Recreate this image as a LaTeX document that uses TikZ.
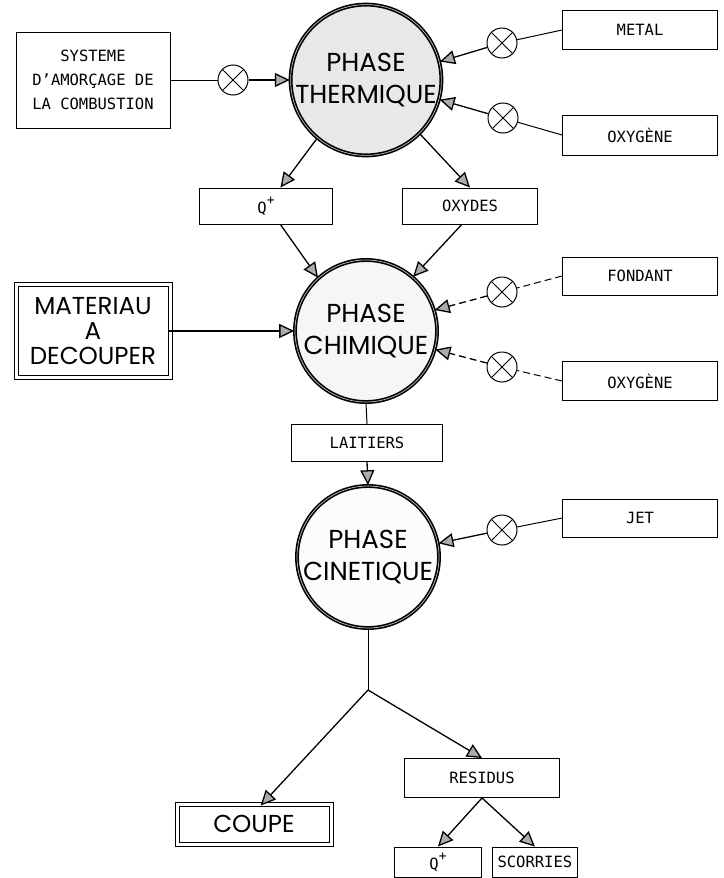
\documentclass[tikz,border=0pt]{standalone}
\usepackage{fontspec}
\setmainfont{Poppins}
\setmonofont{DejaVu Sans Mono}
\usetikzlibrary{arrows.meta,positioning}

\begin{document}
\begin{tikzpicture}[x=1pt,y=-1pt,
	phase/.style={circle,draw,line width=1.6pt,double=gray!50,double distance=0.7pt,minimum size=142pt,inner sep=0pt,align=center,font=\fontsize{26}{32}\selectfont,fill=#1},
	phase/.default=white,
	tbox/.style={rectangle,draw,line width=0.9pt,font=\ttfamily\fontsize{15.5}{24}\selectfont,minimum width=155pt,minimum height=38pt,inner sep=2pt,align=center},
	dbox/.style={rectangle,draw,line width=0.9pt,font=\fontsize{24.5}{25}\selectfont,align=center,inner sep=2pt},
	cadre/.style={line width=0.9pt},
	vanne/.style={circle,draw,line width=1pt,minimum size=30pt,inner sep=0pt,
	  path picture={\draw[line width=1pt] (path picture bounding box.north west) -- (path picture bounding box.south east)
	  (path picture bounding box.north east) -- (path picture bounding box.south west);}},
	paths/.style={-{Triangle[length=15pt,width=14pt,fill=gray!65]},line width=1.3pt},
	feed/.style={line width=1pt},
	pointille/.style={dash pattern=on 7pt off 4pt}
	]
\newcommand{\qplus}{Q\raisebox{1.1ex}{\fontsize{13}{13}\selectfont +}}
\useasboundingbox (0,0) rectangle (723,878);

% phases
\node [phase=gray!18] at (366,80) (phth) {PHASE\\THERMIQUE};
\node [phase=gray!7] at (366,331) (phch) {PHASE\\CHIMIQUE};
\node [phase=gray!2] at (368,557) (phci) {PHASE\\CINETIQUE};

% inputs and outputs
\node [tbox,minimum width=154pt,minimum height=96pt] at (93,80) (sys) {SYSTEME\\D’AMORÇAGE DE\\LA COMBUSTION};
\node [tbox,minimum height=39pt] at (640,30) (metal) {METAL};
\node [tbox,minimum height=40pt] at (640,135) (oxy1) {OXYGÈNE};
\node [tbox,minimum width=133pt,minimum height=36pt] at (266,206) (q1) {\qplus};
\node [tbox,minimum width=135pt,minimum height=36pt] at (470,206) (ox) {OXYDES};
\node [dbox,minimum width=150pt,minimum height=89pt] at (93,331) (mat) {MATERIAU\\A\\DECOUPER};
\node [tbox] at (640,276) (fnd) {FONDANT};
\node [tbox,minimum height=39pt] at (640,381) (oxy2) {OXYGÈNE};
\node [tbox,minimum width=151pt,minimum height=37pt] at (367,443) (lait) {LAITIERS};
\node [tbox] at (640,518) (jet) {JET};
\node [dbox,minimum width=150pt,minimum height=36pt] at (254,824) (coupe) {COUPE};
\node [tbox,minimum height=39pt] at (482,778) (res) {RESIDUS};
\node [tbox,minimum width=87pt,minimum height=30pt] at (438,862) (q2) {\qplus};
\node [tbox,minimum width=85pt,minimum height=30pt,right=10pt of q2] (sco) {SCORRIES};

% outer frames of the double boxes
\draw[cadre] ([shift={(-3.5pt,3.5pt)}]mat.north west) rectangle ([shift={(3.5pt,-3.5pt)}]mat.south east);
\draw[cadre] ([shift={(-3.5pt,3.5pt)}]coupe.north west) rectangle ([shift={(3.5pt,-3.5pt)}]coupe.south east);

% vannes
\node [vanne] at (233,80) (c1) {};
\node [vanne] at (502,43) (c2) {};
\node [vanne] at (503,118) (c3) {};
\node [vanne] at (502,292) (c4) {};
\node [vanne] at (502,367) (c5) {};
\node [vanne] at (502,530) (c6) {};
\coordinate (fork) at (368,690);

% paths
\draw[feed] (sys) -- (c1);
\draw[paths] (c1) -- (phth.west);
\draw[feed] (metal.west) -- (c2);
\draw[paths] (c2) -- (phth.14);
\draw[feed] (oxy1.west) -- (c3);
\draw[paths] (c3) -- (phth.-15);

\draw[paths] (phth.230) -- (q1.52);
\draw[paths] (phth.-45) -- (ox.north);
\draw[paths] (q1.-52) -- (phch.132);
\draw[paths] (ox.-114) -- (phch.49);

\draw[paths] (mat.east) -- (phch.west);
\draw[feed,pointille] (fnd.west) -- (c4);
\draw[paths,pointille] (c4) -- (phch.17);
\draw[feed,pointille] (oxy2.west) -- (c5);
\draw[paths,pointille] (c5) -- (phch.-15);

\draw[feed] (phch.south) -- (lait.north);
\draw[paths] (lait.south) -- (phci.north);
\draw[feed] (jet.west) -- (c6);
\draw[paths] (c6) -- (phci.11);

\draw[feed] (phci.south) -- (fork);
\draw[paths] (fork) -- (coupe.70);
\draw[paths] (fork) -- (res.north);
\draw[paths] (res.south) -- (q2.north);
\draw[paths] (res.south) -- (sco.north);

\end{tikzpicture}
\end{document}
